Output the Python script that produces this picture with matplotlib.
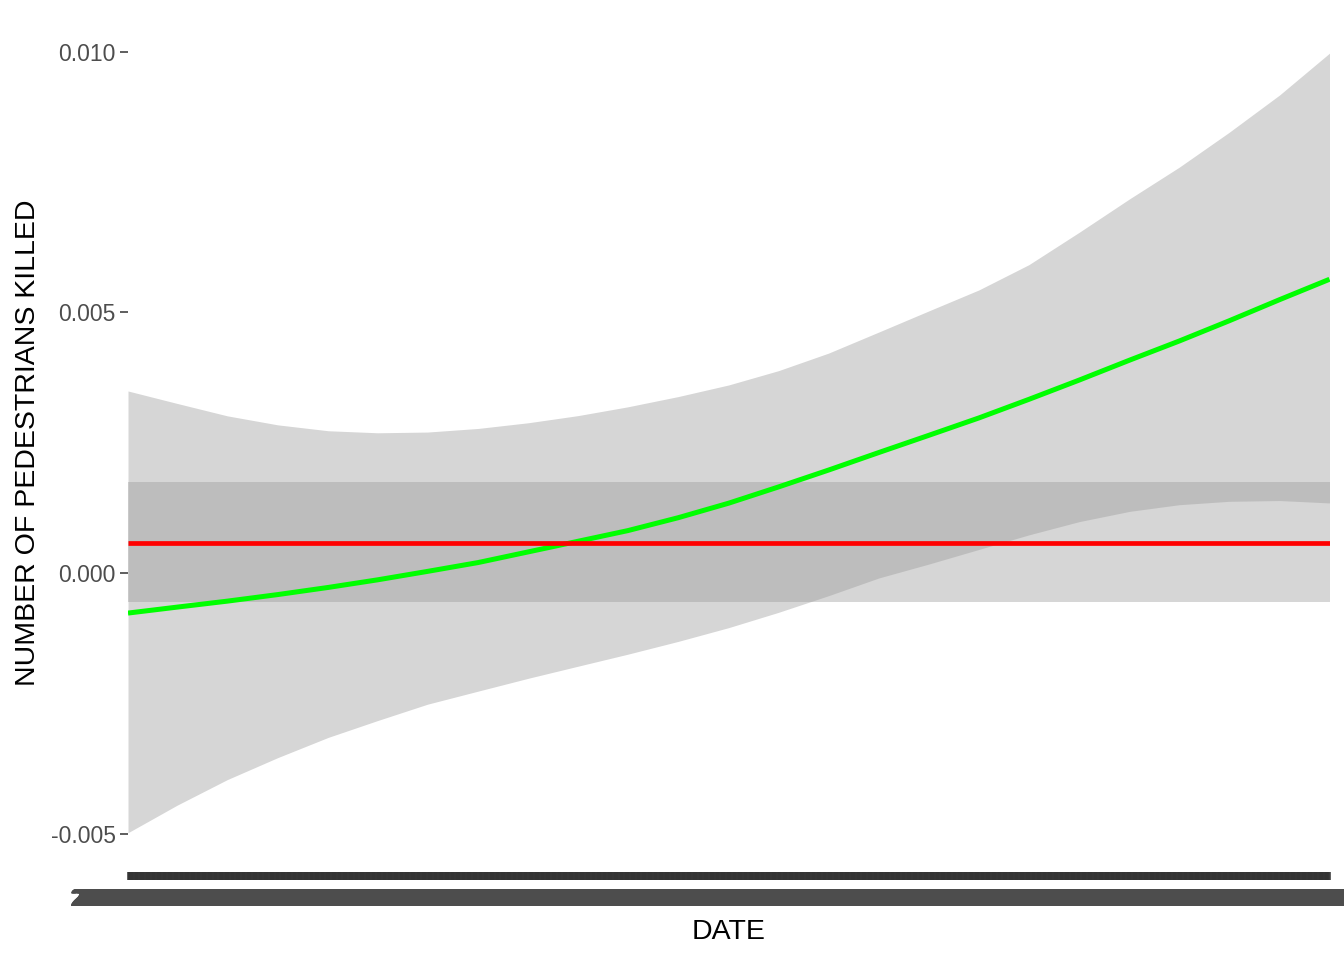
import numpy as np
import pandas as pd
import matplotlib
matplotlib.use('Agg')
import matplotlib.pyplot as plt

plt.rcParams['font.family'] = ['Liberation Sans', 'DejaVu Sans']

sample_dates = ['2013-01-01', '2013-04-01', '2013-07-01', '2013-10-01',
                '2014-01-01', '2014-04-01', '2014-07-01', '2014-10-01',
                '2015-01-01', '2015-04-01', '2015-07-01', '2015-10-01',
                '2016-01-01', '2016-04-01', '2016-07-01', '2016-10-01',
                '2017-01-01', '2017-04-01', '2017-07-01', '2017-10-01',
                '2018-01-01', '2018-04-01', '2018-07-01', '2018-10-01',
                '2018-12-31']
loess_fit = [-0.000767, -0.000652, -0.000538, -0.000412, -0.000275, -0.000129,
             0.000033, 0.000202, 0.000408, 0.000610, 0.000815, 0.001063,
             0.001342, 0.001654, 0.001977, 0.002315, 0.002648, 0.002977,
             0.003333, 0.003704, 0.004087, 0.004452, 0.004840, 0.005246,
             0.005637]
loess_upper = [0.003494, 0.003254, 0.003017, 0.002844, 0.002731, 0.002692,
               0.002706, 0.002775, 0.002885, 0.003021, 0.003190, 0.003387,
               0.003610, 0.003885, 0.004221, 0.004627, 0.005036, 0.005433,
               0.005917, 0.006540, 0.007183, 0.007787, 0.008456, 0.009173,
               0.009975]
loess_lower = [-0.004981, -0.004450, -0.003962, -0.003540, -0.003152, -0.002829,
               -0.002515, -0.002265, -0.002017, -0.001787, -0.001556, -0.001310,
               -0.001046, -0.000752, -0.000433, -0.000092, 0.000177, 0.000454,
               0.000733, 0.000988, 0.001185, 0.001312, 0.001377, 0.001392,
               0.001346]

# flat fit (red) and its band
mean_fit = 0.000585
mean_upper = 0.001744
mean_lower = -0.000563

date_start = '2013-01-01'
date_end = '2018-12-31'

x = pd.to_datetime(sample_dates)
all_days = pd.date_range(date_start, date_end, freq='D')
ends = [all_days[0], all_days[-1]]

fig = plt.figure(figsize=(13.44, 9.6), dpi=100)
W, H = 1344, 960
left, right, top, bottom = 128, 1329.5, 14.2, 871.7
ax = fig.add_axes([left / W, 1 - bottom / H, (right - left) / W, (bottom - top) / H])

ax.fill_between(x, loess_lower, loess_upper, color='#999999', alpha=0.4, lw=0)
ax.plot(x, loess_fit, color='#00ff00', lw=3.6, solid_capstyle='butt')
ax.fill_between(ends, [mean_lower] * 2, [mean_upper] * 2, color='#999999', alpha=0.4, lw=0)
ax.plot(ends, [mean_fit] * 2, color='#ff0000', lw=3.4, solid_capstyle='butt')

ax.set_xlim(all_days[0], all_days[-1])
ymin = min(loess_lower)
ymax = max(loess_upper)
pad = (ymax - ymin) * 0.05
ax.set_ylim(ymin - pad, ymax + pad)

yticks = [-0.005, 0.0, 0.005, 0.010]
ax.set_yticks(yticks)
ax.set_yticklabels(['-0.005', '0.000', '0.005', '0.010'])
ax.set_xticks(all_days)
ax.set_xticklabels(all_days.strftime('%Y-%m-%d'))

for s in ax.spines.values():
    s.set_visible(False)
ax.tick_params(axis='both', length=5.5, width=1.1, color='#333333',
               labelcolor='#4d4d4d', labelsize=16.5, pad=3.5)
ax.tick_params(axis='x', pad=6)

ax.set_xlabel('DATE', fontsize=20.5, color='black', va='center')
ax.xaxis.set_label_coords(0.5, (bottom - 932) / (bottom - top))
ax.set_ylabel('NUMBER OF PEDESTRIANS KILLED', fontsize=20.5, color='black', va='center')
ax.yaxis.set_label_coords((28 - left) / (right - left), 0.5)

fig.savefig('out.png', dpi=100, facecolor='white')
